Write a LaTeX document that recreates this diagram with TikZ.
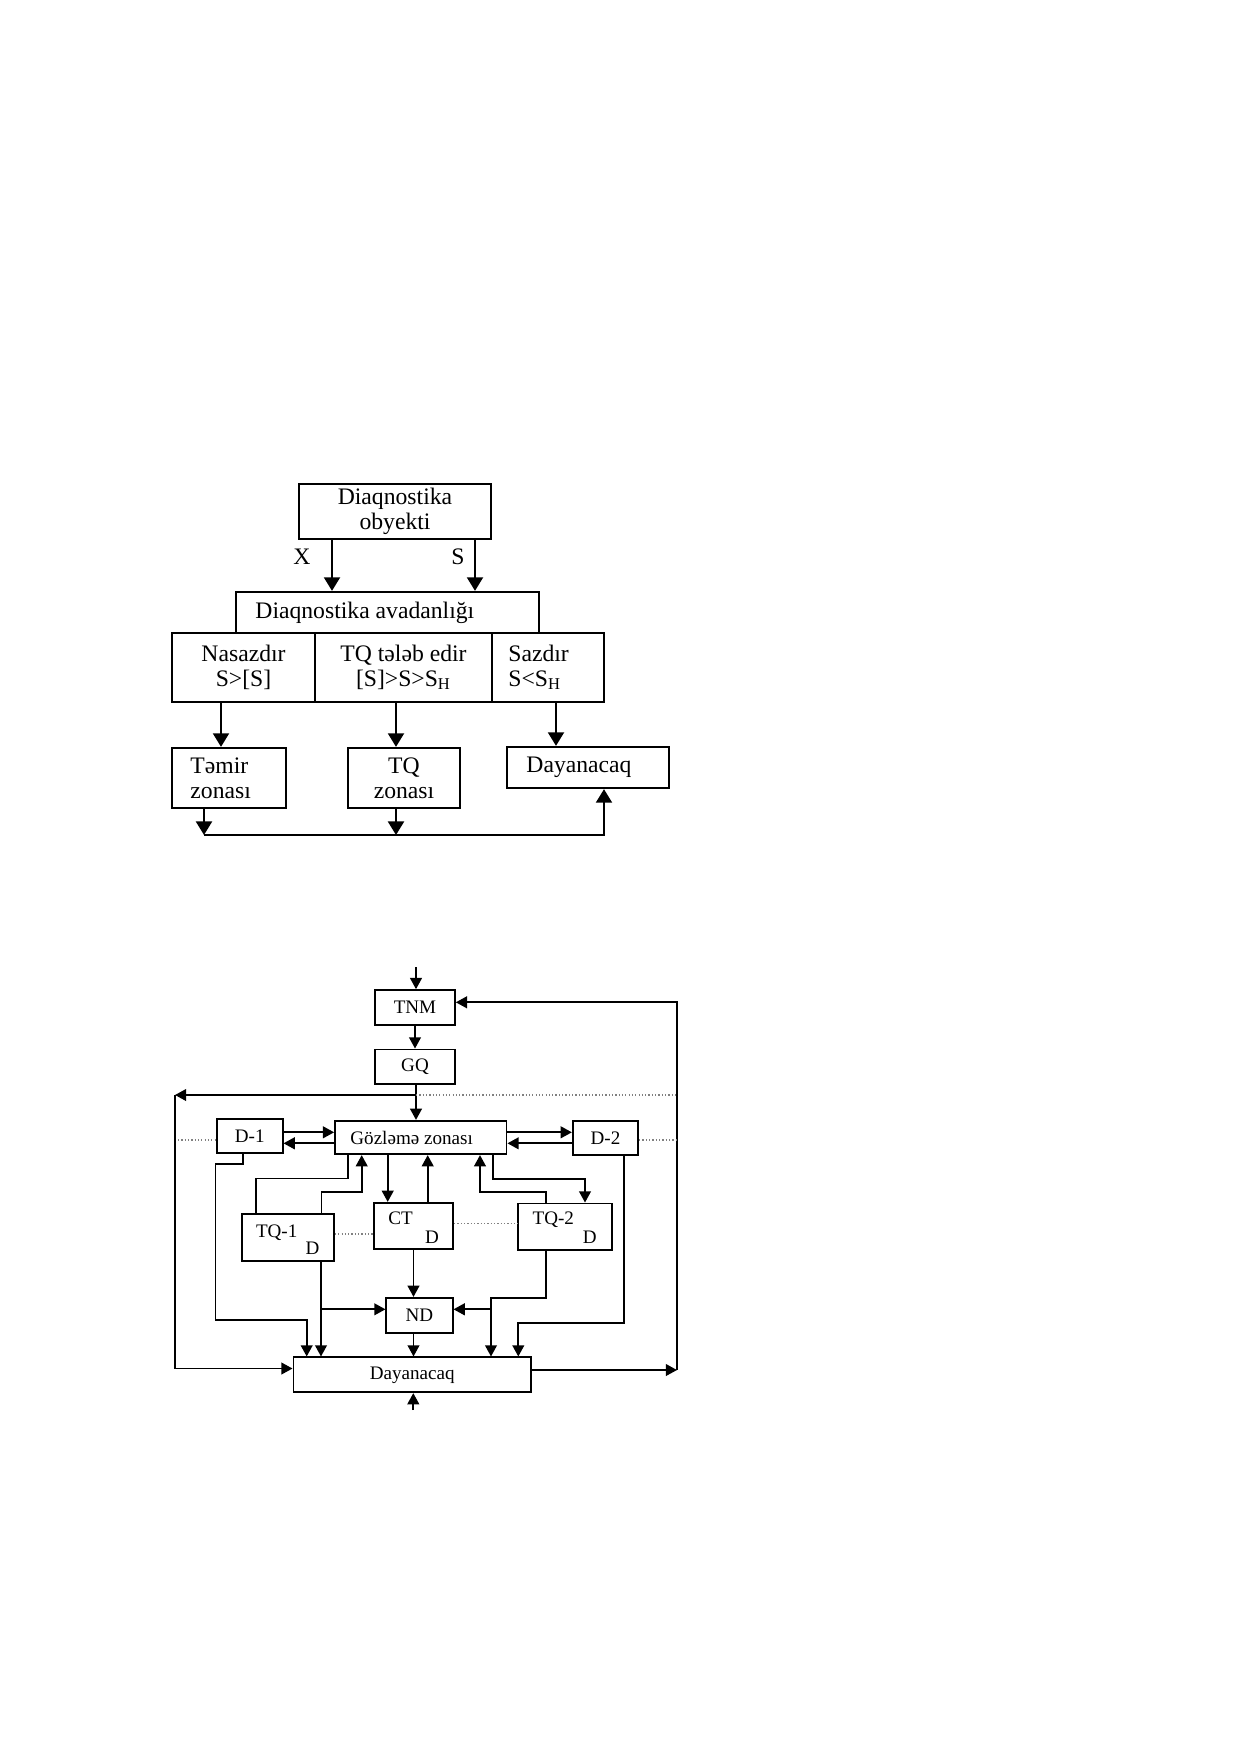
\documentclass[tikz,border=0pt]{standalone}
\usepackage{fontspec}
\setmainfont{Liberation Serif}
\usetikzlibrary{arrows.meta}
\newdimen\pu
\pu=0.16933mm

\begin{document}
\begin{tikzpicture}[x=0.16933mm, y=-0.16933mm,
    tam/.style 2 args={minimum width=#1*\pu, minimum height=#2*\pu},
    caja1/.style={draw, line width=1.1pt, inner sep=0pt, align=center,
      font=\fontsize{11.4}{12}\selectfont},
    caja2/.style={draw, line width=0.8pt, inner sep=0pt, align=center,
      font=\fontsize{9.2}{10}\selectfont},
    txt1/.style={inner sep=0pt, align=left, font=\fontsize{11.4}{12}\selectfont},
    txt2/.style={inner sep=0pt, font=\fontsize{9.2}{10}\selectfont},
    flecha1/.style={-{Triangle[length=2.3mm,width=2.7mm]}, line width=1.1pt},
    flecha2/.style={-{Triangle[length=1.9mm,width=2mm]}, line width=0.8pt},
    linea2/.style={line width=0.8pt},
    punto/.style={densely dotted, line width=0.6pt, gray}]
\useasboundingbox (0,0) rectangle (1239,1754);

% Esquema superior
\node[caja1, tam={192}{55}] (obj) at (395,511.5) {Diaqnostika\\obyekti};
\node[caja1, tam={303}{41}] (avad) at (387.5,612.5) {};
\node[txt1, anchor=west] (avadtx) at (255,612.5) {Diaqnostika avadanlığı};
\node[caja1, tam={143}{69}] (nasaz) at (243.5,667.5) {Nasazdır\\S>[S]};
\node[caja1, tam={177}{69}] (tqtel) at (403.5,667.5) {TQ tələb edir\\{}[S]>S>S\textsubscript{H}};
\node[caja1, tam={112}{69}] (sazdir) at (548,667.5) {};
\node[txt1, anchor=west] (sazdirtx) at (508,667.5) {Sazdır\\S<S\textsubscript{H}};
\node[caja1, tam={114}{60}] (temir) at (229,778) {};
\node[txt1, anchor=west] (temirtx) at (190,778) {Təmir\\zonası};
\node[caja1, tam={112}{60}] (tqzon) at (404,778) {TQ\\zonası};
\node[caja1, tam={162}{41}] (dayan1) at (588,767.5) {};
\node[txt1, anchor=west] (dayan1tx) at (526,767.5) {Dayanacaq};
\node[txt1] (lx) at (302,557) {X};
\node[txt1] (ls) at (458,557) {S};

% Flechas del esquema superior
\coordinate (cx) at (332,0);
\coordinate (cs) at (475,0);
\draw[flecha1] (obj.south -| cx) -- (avad.north -| cx);
\draw[flecha1] (obj.south -| cs) -- (avad.north -| cs);
\coordinate (k1) at (221,0);
\coordinate (k2) at (396,0);
\coordinate (k3) at (556,0);
\draw[flecha1] (nasaz.south -| k1) -- (temir.north -| k1);
\draw[flecha1] (tqtel.south -| k2) -- (tqzon.north -| k2);
\draw[flecha1] (sazdir.south -| k3) -- (dayan1.north -| k3);
\coordinate (r1) at (204,835);
\coordinate (r2) at (396,835);
\coordinate (r3) at (604,835);
\draw[flecha1] (temir.south -| r1) -- (r1);
\draw[flecha1] (tqzon.south -| r2) -- (r2);
\draw[flecha1] (r1) -- (r3) -- (dayan1.south -| r3);

% Esquema inferior
\node[caja2, tam={80}{35}] (tnm) at (415,1007.5) {TNM};
\node[caja2, tam={80}{34.7}] (gq) at (415,1066.7) {GQ};
\node[caja2, tam={171.7}{33.6}] (goz) at (420.8,1137.5) {};
\node[txt2, anchor=west] (goztx) at (350,1137.5) {Gözləmə zonası};
\node[caja2, tam={66}{34}] (d1) at (249.7,1136.3) {D-1};
\node[caja2, tam={65.6}{34.3}] (d2) at (605.5,1137.9) {D-2};
\node[caja2, tam={92.3}{46.7}] (tq1) at (287.9,1237.4) {};
\node[caja2, tam={79.6}{46.6}] (ct) at (413.5,1226) {};
\node[caja2, tam={93.4}{46.7}] (tq2) at (565,1226.7) {};
\node[caja2, tam={66.4}{35.6}] (nd) at (419.5,1315.5) {ND};
\node[caja2, tam={237.7}{35}] (dayan2) at (412.2,1374.8) {Dayanacaq};
\node[txt2, anchor=base] (tq1a) at (276.7,1237.3) {TQ-1};
\node[txt2, anchor=base] (tq1b) at (312.5,1254) {D};
\node[txt2, anchor=base] (cta) at (400.5,1224.3) {CT};
\node[txt2, anchor=base] (ctb) at (432,1243.3) {D};
\node[txt2, anchor=base] (tq2a) at (553.3,1224.3) {TQ-2};
\node[txt2, anchor=base] (tq2b) at (589.7,1243.3) {D};

% Entrada, TNM y GQ
\coordinate (ent1) at (416,967);
\draw[flecha2] (ent1) -- (tnm.north -| ent1);
\draw[flecha2] (tnm) -- (gq);
\draw[flecha2] (gq.south -| ent1) -- (goz.north -| ent1);

% Retornos laterales
\coordinate (iz1) at (416,1095);
\coordinate (iz2) at (175,1095);
\coordinate (iz3) at (175,1368.5);
\draw[flecha2] (iz1) -- (iz2);
\draw[linea2] (iz2) -- (iz3);
\draw[flecha2] (iz3) -- (dayan2.west |- iz3);
\coordinate (de1) at (677,1095);
\draw[punto] (iz1) -- (de1);
\coordinate (de2) at (677,1370);
\coordinate (de3) at (677,1002.3);
\draw[flecha2] (dayan2.east |- de2) -- (de2);
\draw[flecha2] (de2) -- (de3) -- (tnm.east |- de3);

% D-1 y D-2
\coordinate (pz1) at (178,1140);
\coordinate (pz2) at (676,1140);
\draw[punto] (pz1) -- (d1.west |- pz1);
\draw[punto] (d2.east |- pz2) -- (pz2);
\coordinate (fa) at (0,1132.3);
\coordinate (fb) at (0,1143.3);
\draw[flecha2] (d1.east |- fa) -- (goz.west |- fa);
\draw[flecha2] (goz.west |- fb) -- (d1.east |- fb);
\draw[flecha2] (goz.east |- fa) -- (d2.west |- fa);
\draw[flecha2] (d2.west |- fb) -- (goz.east |- fb);

% Gozleme zonasi con TQ-1, CT y TQ-2
\coordinate (g1) at (348.3,1178.5);
\coordinate (g2) at (256,1178.5);
\draw[linea2] (goz.south -| g1) -- (g1) -- (g2) -- (tq1.north -| g2);
\coordinate (t1) at (321.5,1191.7);
\coordinate (t2) at (361.7,1191.7);
\draw[flecha2] (tq1.north -| t1) -- (t1) -- (t2) -- (goz.south -| t2);
\coordinate (c1) at (387.7,0);
\coordinate (c2) at (427.7,0);
\draw[flecha2] (goz.south -| c1) -- (ct.north -| c1);
\draw[flecha2] (ct.north -| c2) -- (goz.south -| c2);
\coordinate (t3) at (545.7,1191.7);
\coordinate (t4) at (480,1191.7);
\draw[flecha2] (tq2.north -| t3) -- (t3) -- (t4) -- (goz.south -| t4);
\coordinate (g3) at (493.3,1179);
\coordinate (g4) at (585,1179);
\draw[flecha2] (goz.south -| g3) -- (g3) -- (g4) -- (tq2.north -| g4);
\coordinate (p1) at (0,1234);
\coordinate (p2) at (0,1223.3);
\draw[punto] (tq1.east |- p1) -- (ct.west |- p1);
\draw[punto] (ct.east |- p2) -- (tq2.west |- p2);

% Hacia ND y Dayanacaq
\draw[flecha2] (ct.south) -- (ct.south |- nd.north);
\coordinate (t5) at (321,1309.3);
\draw[flecha2] (tq1.south -| t5) -- (dayan2.north -| t5);
\draw[flecha2] (t5) -- (nd.west |- t5);
\coordinate (t6) at (545.7,1297.7);
\coordinate (t7) at (491,1297.7);
\coordinate (t8) at (491,1309.3);
\draw[flecha2] (tq2.south -| t6) -- (t6) -- (t7) -- (dayan2.north -| t7);
\draw[flecha2] (t8) -- (nd.east |- t8);
\draw[flecha2] (nd.south -| ct.south) -- (dayan2.north -| ct.south);
\coordinate (a1) at (242.7,1164);
\coordinate (a2) at (215.5,1164);
\coordinate (a3) at (215.5,1320);
\coordinate (a4) at (306.7,1320);
\draw[flecha2] (d1.south -| a1) -- (a1) -- (a2) -- (a3) -- (a4) -- (dayan2.north -| a4);
\coordinate (b1) at (624,1322.7);
\coordinate (b2) at (518.3,1322.7);
\draw[flecha2] (d2.south -| b1) -- (b1) -- (b2) -- (dayan2.north -| b2);
\coordinate (ent2) at (413.3,1410);
\draw[flecha2] (ent2) -- (dayan2.south -| ent2);
\end{tikzpicture}
\end{document}
